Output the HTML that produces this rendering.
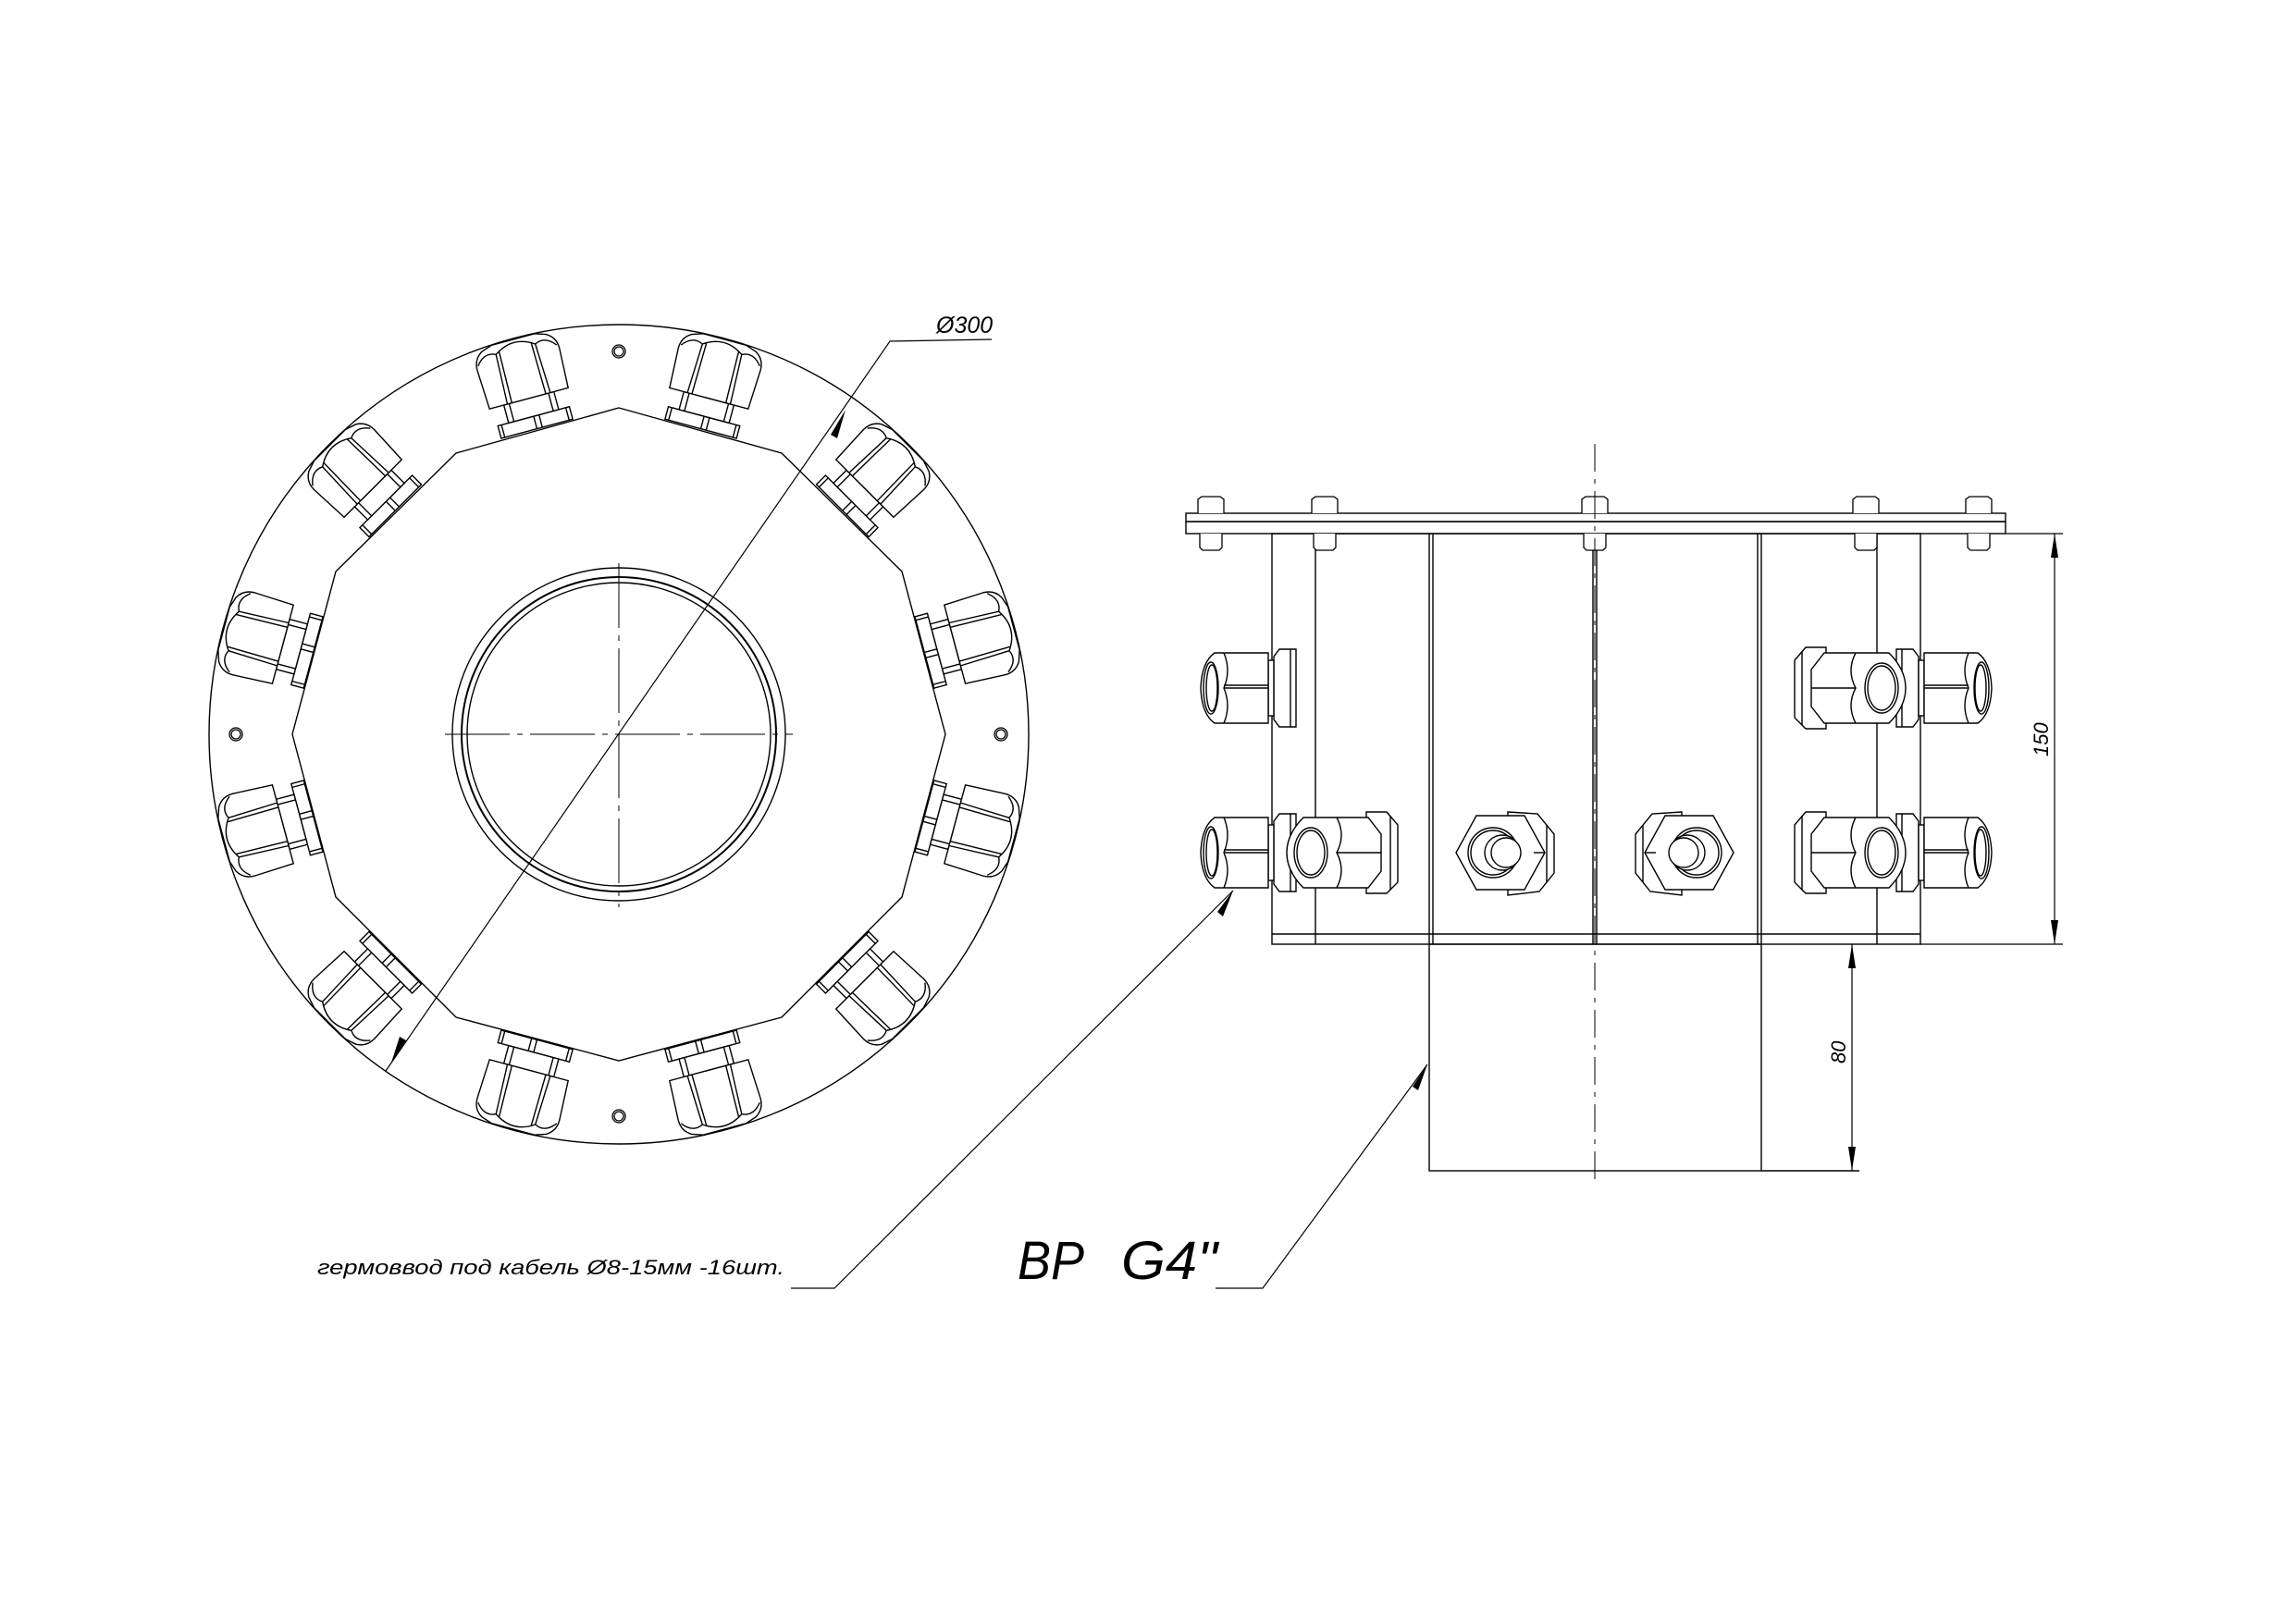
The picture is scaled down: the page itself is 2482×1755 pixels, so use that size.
<!DOCTYPE html>
<html><head><meta charset="utf-8"><style>
html,body{margin:0;padding:0;background:#fff}
svg{display:block}
text{font-family:"Liberation Sans","DejaVu Sans",sans-serif;font-style:italic;fill:#000}
</style></head><body>
<svg width="2482" height="1755" viewBox="0 0 2482 1755" xmlns="http://www.w3.org/2000/svg">
<defs>
<g id="g" fill="#fff" stroke="#000" stroke-width="1.4">
  <rect x="-40" y="-356" width="80" height="14"/>
  <line x1="-36" y1="-356" x2="-36" y2="-342"/><line x1="36" y1="-356" x2="36" y2="-342"/>
  <line x1="0" y1="-356" x2="0" y2="-342"/><line x1="6" y1="-356" x2="6" y2="-342"/>
  <rect x="-28" y="-376" width="56" height="20"/>
  <line x1="-22" y1="-376" x2="-22" y2="-356"/><line x1="22" y1="-376" x2="22" y2="-356"/>
  <path d="M-44,-376 L-46,-420 Q-46,-432 -36,-438 L-24,-442 L24,-442 L36,-438 Q46,-432 46,-420 L44,-376 Z"/>
  <path d="M-44,-424 Q-34,-437 -22,-431 Q0,-446 22,-431 Q34,-437 44,-424" fill="none"/>
  <line x1="-24" y1="-376" x2="-22" y2="-431"/><line x1="-19" y1="-376" x2="-18" y2="-433"/>
  <line x1="24" y1="-376" x2="22" y2="-431"/><line x1="19" y1="-376" x2="18" y2="-433"/>
</g>
<g id="s" fill="#fff" stroke="#000" stroke-width="1.4">
  <path d="M0,-42 L-18,-42 L-24,-34 L-24,34 L-18,42 L0,42 Z"/>
  <line x1="-6" y1="-42" x2="-6" y2="42"/>
  <rect x="-30" y="-30" width="6" height="60"/>
  <path d="M-30,-38 L-88,-38 Q-102,-28 -103,0 Q-102,28 -88,38 L-30,38 Z"/>
  <path d="M-78,-38 Q-70,-19 -78,0 Q-70,19 -78,38" fill="none"/>
  <line x1="-78" y1="0" x2="-30" y2="0"/>
  <line x1="-78" y1="-3" x2="-30" y2="-3"/>
  <ellipse cx="-92" cy="0" rx="8" ry="28"/>
  <ellipse cx="-91" cy="0" rx="6" ry="25"/>
</g>
<g id="t" fill="#fff" stroke="#000" stroke-width="1.4">
  <path d="M60,-44 L82,-44 L94,-30 L94,32 L82,44 L60,44 Z"/>
  <line x1="86" y1="-40" x2="86" y2="40"/>
  <path d="M-8,-38 L62,-38 L76,-20 L76,20 L62,38 L-8,38 Q-26,20 -26,0 Q-26,-20 -8,-38 Z"/>
  <path d="M28,-38 Q38,-19 28,0 Q38,19 28,38" fill="none"/>
  <line x1="28" y1="0" x2="76" y2="0"/>
  <ellipse cx="0" cy="0" rx="18" ry="27"/>
  <ellipse cx="0" cy="0" rx="15" ry="24"/>
</g>
<g id="f" fill="#fff" stroke="#000" stroke-width="1.4">
  <path d="M8,-44 L40,-42 L58,-20 L58,22 L42,42 L8,46 Z"/>
  <line x1="50" y1="-30" x2="50" y2="32"/>
  <polygon points="-48,0 -26,-40 26,-40 48,0 26,40 -26,40"/>
  <line x1="36" y1="0" x2="48" y2="0"/>
  <circle cx="-8" cy="0" r="27"/>
  <circle cx="-8" cy="0" r="24"/>
  <circle cx="2" cy="0" r="19"/>
  <circle cx="6" cy="0" r="16"/>
</g>
<g id="hole" fill="none" stroke="#000" stroke-width="1.3"><circle r="7"/><circle r="5"/></g>
</defs>

<g fill="none" stroke="#000" stroke-width="1.4">
  <circle cx="669" cy="794" r="443"/>
  <polygon points="669,441 845,490 975,618 1022,794 975,970 845,1100 669,1147 493,1100 363,970 316,794 363,618 493,490"/>
  <circle cx="669" cy="794" r="180"/>
  <circle cx="669" cy="794" r="170" stroke-width="2"/>
  <circle cx="669" cy="794" r="164"/>
</g>
<g stroke="#000" stroke-width="1" fill="none" stroke-dasharray="70,8,6,8">
  <line x1="481" y1="794" x2="857" y2="794"/>
  <line x1="669" y1="609" x2="669" y2="981"/>
</g>
<use href="#hole" x="669" y="380"/><use href="#hole" x="255" y="794"/>
<use href="#hole" x="1082" y="794"/><use href="#hole" x="669" y="1207"/>
<g transform="translate(669,794)">
  <use href="#g" transform="rotate(15)"/><use href="#g" transform="rotate(45)"/>
  <use href="#g" transform="rotate(75)"/><use href="#g" transform="rotate(105)"/>
  <use href="#g" transform="rotate(135)"/><use href="#g" transform="rotate(165)"/>
  <use href="#g" transform="rotate(195)"/><use href="#g" transform="rotate(225)"/>
  <use href="#g" transform="rotate(255)"/><use href="#g" transform="rotate(285)"/>
  <use href="#g" transform="rotate(315)"/><use href="#g" transform="rotate(345)"/>
</g>
<g stroke="#000" stroke-width="1.2" fill="none">
  <polyline points="1072,367 962,369 417,1158"/>
</g>
<polygon points="914,443 898,470 905,474" fill="#000"/>
<polygon points="423,1149 432,1121 439,1125" fill="#000"/>
<text x="1012" y="360" font-size="25">Ø300</text>

<g fill="none" stroke="#000" stroke-width="1.4">
  <rect x="1282" y="555" width="886" height="9"/>
  <rect x="1282" y="564" width="886" height="13"/>
  <rect x="1375" y="577" width="701" height="444"/>
  <line x1="1375" y1="1010" x2="2076" y2="1010"/>
  <line x1="1422" y1="577" x2="1422" y2="1021"/>
  <line x1="1549" y1="577" x2="1549" y2="1021"/>
  <line x1="1545" y1="577" x2="1545" y2="1021"/>
  <line x1="1900" y1="577" x2="1900" y2="1021"/>
  <line x1="1904" y1="577" x2="1904" y2="1021"/>
  <line x1="2029" y1="577" x2="2029" y2="1021"/>
  <line x1="1722" y1="577" x2="1722" y2="1021"/>
  <line x1="1726" y1="577" x2="1726" y2="1021"/>
  <rect x="1545" y="1021" width="359" height="245"/>
  <line x1="1904" y1="1266" x2="2010" y2="1266"/>
</g>
<g fill="#fff" stroke="#000" stroke-width="1.3">
  <path d="M1295,555 L1295,540 L1299,537 L1319,537 L1323,540 L1323,555"/>
  <path d="M1418,555 L1418,540 L1422,537 L1442,537 L1446,540 L1446,555"/>
  <path d="M1710,555 L1710,540 L1714,537 L1734,537 L1738,540 L1738,555"/>
  <path d="M2003,555 L2003,540 L2007,537 L2027,537 L2031,540 L2031,555"/>
  <path d="M2125,555 L2125,540 L2129,537 L2149,537 L2153,540 L2153,555"/>
  <path d="M1297,577 L1297,592 L1300,595 L1318,595 L1321,592 L1321,577"/>
  <path d="M1420,577 L1420,592 L1423,595 L1441,595 L1444,592 L1444,577"/>
  <path d="M1712,577 L1712,592 L1715,595 L1733,595 L1736,592 L1736,577"/>
  <path d="M2005,577 L2005,592 L2008,595 L2026,595 L2029,592 L2029,577"/>
  <path d="M2127,577 L2127,592 L2130,595 L2148,595 L2151,592 L2151,577"/>
</g>
<line x1="1724" y1="480" x2="1724" y2="1281" stroke="#000" stroke-width="1" stroke-dasharray="30,8,5,8"/>
<use href="#s" transform="translate(1401,744)"/>
<use href="#s" transform="translate(1401,922)"/>
<use href="#t" transform="translate(1417,922)"/>
<use href="#f" transform="translate(1622,922)"/>
<use href="#f" transform="translate(1826,922) scale(-1,1)"/>
<use href="#s" transform="translate(2050,744) scale(-1,1)"/>
<use href="#s" transform="translate(2050,922) scale(-1,1)"/>
<use href="#t" transform="translate(2034,744) scale(-1,1)"/>
<use href="#t" transform="translate(2034,922) scale(-1,1)"/>
<g stroke="#000" stroke-width="1.2" fill="none">
  <line x1="2168" y1="577" x2="2230" y2="577"/>
  <line x1="2076" y1="1021" x2="2230" y2="1021"/>
  <line x1="2221" y1="577" x2="2221" y2="1021"/>
  <line x1="2002" y1="1021" x2="2002" y2="1266"/>
</g>
<g fill="#000">
  <polygon points="2221,577 2217,603 2225,603"/>
  <polygon points="2221,1021 2217,995 2225,995"/>
  <polygon points="2002,1021 1998,1047 2006,1047"/>
  <polygon points="2002,1266 1998,1240 2006,1240"/>
</g>
<text font-size="22" transform="translate(2214,818) rotate(-90)">150</text>
<text font-size="22" transform="translate(1995,1150) rotate(-90)">80</text>

<g stroke="#000" stroke-width="1.2" fill="none">
  <polyline points="855,1393 902,1393 1333,963"/>
  <polyline points="1314,1393 1365,1393 1543,1151"/>
</g>
<polygon points="1333,963 1316,986 1322,991" fill="#000"/>
<polygon points="1543,1151 1527,1175 1533,1179" fill="#000"/>
<text x="343" y="1378" font-size="22" textLength="505" lengthAdjust="spacingAndGlyphs">гермоввод под кабель Ø8-15мм  -16шт.</text>
<text y="1383" font-size="58"><tspan x="1100" textLength="72" lengthAdjust="spacingAndGlyphs">BP</tspan><tspan x="1212" textLength="104" lengthAdjust="spacingAndGlyphs">G4"</tspan></text>
</svg>
</body></html>
